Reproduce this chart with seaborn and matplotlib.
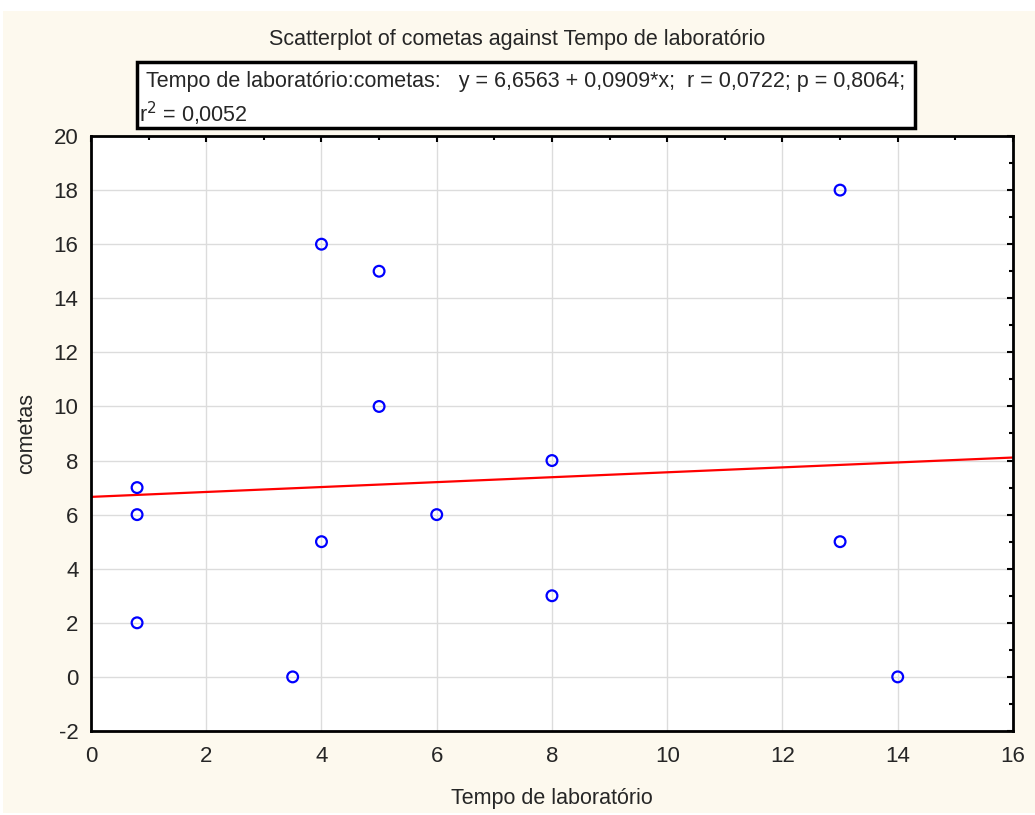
import numpy as np
import pandas as pd
import seaborn as sns
import matplotlib.pyplot as plt
from matplotlib.patches import Rectangle
from matplotlib.ticker import MultipleLocator

# data
tempo = [0.8, 0.8, 0.8, 3.5, 4, 4, 5, 5, 6, 8, 8, 13, 13, 14]
cometas = [7, 6, 2, 0, 16, 5, 15, 10, 6, 8, 3, 18, 5, 0]
df = pd.DataFrame({"Tempo de laboratório": tempo, "cometas": cometas})

sns.set_style("white")
plt.rcParams['font.family'] = ['Liberation Sans', 'DejaVu Sans']
plt.rcParams['axes.unicode_minus'] = False

fig = plt.figure(figsize=(10.35, 8.15), dpi=100, facecolor='white')
fig.patches.append(Rectangle((0.003, 0.002), 0.997, 0.985, transform=fig.transFigure,
                             facecolor='#FDF9EE', edgecolor='none', zorder=-10))
ax = fig.add_axes([0.0879, 0.1031, 0.8908, 0.7300])
ax.set_facecolor('white')
ax.set_xlim(0, 16)
ax.set_ylim(-2, 20)

ax.grid(True, color='#DCDCDC', lw=1)
ax.set_axisbelow(True)

sns.scatterplot(data=df, x="Tempo de laboratório", y="cometas", ax=ax,
                marker='o', s=60, facecolors='none', edgecolor='#0000FF', linewidth=1.6, zorder=3)
sns.regplot(data=df, x="Tempo de laboratório", y="cometas", ax=ax, scatter=False,
            ci=None, truncate=False, line_kws=dict(color='#FF0000', lw=1.6, zorder=2))
ax.set_xlim(0, 16)
ax.set_ylim(-2, 20)

ax.xaxis.set_major_locator(MultipleLocator(2))
ax.xaxis.set_minor_locator(MultipleLocator(1))
ax.yaxis.set_major_locator(MultipleLocator(2))
ax.yaxis.set_minor_locator(MultipleLocator(1))
ax.tick_params(which='both', direction='in', top=True, right=True, color='black', width=1.5)
ax.tick_params(which='major', length=4, labelsize=16, pad=9)
ax.tick_params(axis='x', which='major', pad=11)
ax.tick_params(which='minor', length=3)
for s in ax.spines.values():
    s.set_visible(True)
    s.set_color('black')
    s.set_linewidth(2)

ax.set_xlabel("Tempo de laboratório", fontsize=15.5, labelpad=15)
ax.set_ylabel("cometas", fontsize=15.5, labelpad=12)

fig.text(0.5, 0.951, "Scatterplot of cometas against Tempo de laboratório",
         ha='center', va='center', fontsize=15.5)

fig.patches.append(Rectangle((137 / 1035, 1 - 128 / 815), (915 - 137) / 1035, (128 - 62) / 815,
                             transform=fig.transFigure, facecolor='white', edgecolor='black',
                             lw=2.5, zorder=5))
fig.text(146 / 1035, 1 - 81 / 815,
         "Tempo de laboratório:cometas:   y = 6,6563 + 0,0909*x;  r = 0,0722; p = 0,8064;",
         ha='left', va='center', fontsize=15.5, zorder=6)
fig.text(139 / 1035, 1 - 114 / 815, "r$^2$ = 0,0052",
         ha='left', va='center', fontsize=15.5, zorder=6)

fig.savefig("out.png", dpi=100)
